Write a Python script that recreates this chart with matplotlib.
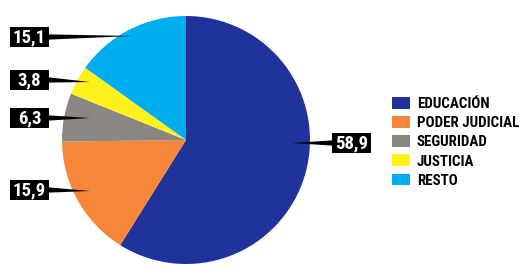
import matplotlib
matplotlib.use("Agg")
import matplotlib.pyplot as plt
from matplotlib import font_manager
from matplotlib.patches import Polygon, Rectangle

# --- data ---
categories = ["EDUCACIÓN", "PODER JUDICIAL", "SEGURIDAD", "JUSTICIA", "RESTO"]
values = [58.9, 15.9, 6.3, 3.8, 15.1]
value_labels = ["58,9", "15,9", "6,3", "3,8", "15,1"]
colors = ["#20339a", "#f6873a", "#8a8782", "#fff21c", "#00aeef"]

# --- callout layout (pixels): box left, box centre y, pointer tip x, tip y ---
box_x = [332, 10, 10, 10, 10]
box_y = [143, 190, 118, 80, 37]
tip_x = [292, 90, 90, 90, 133]
tip_y = [143, 191, 118, 82, 36]
BOX_W, BOX_H = 39, 20

# condensed bold face, need a static bold file
bold = {f.name for f in font_manager.fontManager.ttflist if f.weight in (700, "bold")}
FONT = "DejaVu Sans"
for cand in ["Roboto Condensed", "Liberation Sans Narrow", "Barlow Semi Condensed",
             "Asap Condensed", "Barlow Condensed"]:
    if cand in bold:
        FONT = cand
        break
print("font:", FONT)

W, H = 530, 280
fig = plt.figure(figsize=(W / 100, H / 100), dpi=100)

# pie: centre (186,140), radius 124 px
ax = fig.add_axes([62 / W, (H - 264) / H, 248 / W, 248 / H])
wedges, _ = ax.pie(values, colors=colors, startangle=90, counterclock=False,
                   wedgeprops=dict(linewidth=0))
ax.set_xlim(-1, 1)
ax.set_ylim(-1, 1)
ax.set_aspect("equal")

# overlay in pixel coordinates for callouts
ov = fig.add_axes([0, 0, 1, 1])
ov.set_xlim(0, W)
ov.set_ylim(H, 0)
ov.axis("off")

for lab, bx, by, tx, ty in zip(value_labels, box_x, box_y, tip_x, tip_y):
    # pointer leaves from the box side that faces the tip
    side = bx + BOX_W if tx > bx else bx
    ov.add_patch(Polygon([(side, by - 2.6), (side, by + 2.6), (tx, ty)],
                         closed=True, color="black", lw=0))
    ov.add_patch(Rectangle((bx, by - BOX_H / 2), BOX_W, BOX_H, color="black", lw=0))
    ov.text(bx + BOX_W / 2, by + 0.5, lab, color="white", fontsize=13.5,
            fontweight="bold", family=FONT, ha="center", va="center")

leg = fig.legend(wedges, categories, loc="upper left",
                 bbox_to_anchor=(392 / W, 1 - 97 / H), frameon=False,
                 prop=dict(family=FONT, weight="bold", size=10.8),
                 handlelength=1.2, handleheight=0.85, handletextpad=0.45,
                 labelspacing=0.33, borderpad=0, borderaxespad=0)

fig.savefig("out.png", dpi=100)
